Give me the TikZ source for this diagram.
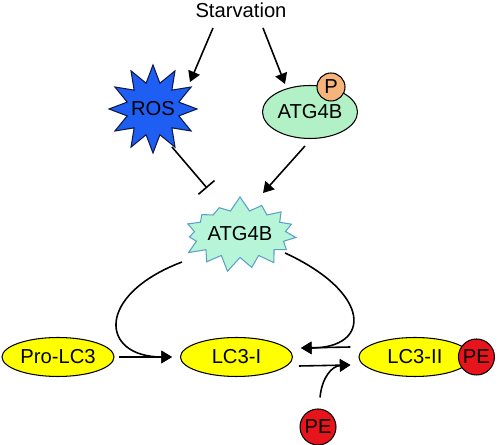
\documentclass[tikz,border=0pt]{standalone}
\usepackage{fontspec}
\setmainfont{Liberation Sans}
\usetikzlibrary{arrows.meta,shapes.geometric,shapes.symbols,positioning}

\definecolor{rosblue}{RGB}{31,94,242}
\definecolor{rosline}{RGB}{15,25,70}
\definecolor{atggreen}{RGB}{178,240,198}
\definecolor{burstgreen}{RGB}{182,245,216}
\definecolor{burstline}{RGB}{92,160,200}
\definecolor{porange}{RGB}{245,180,122}
\definecolor{lcyellow}{RGB}{255,255,0}
\definecolor{pered}{RGB}{232,20,28}

\begin{document}
\begin{tikzpicture}[x=0.02cm,y=0.02cm,>={Triangle[length=6pt,width=7pt]},line width=0.9pt,node distance=3.57cm,
    every node/.style={font=\fontsize{11.5}{13}\selectfont},
    lc/.style={ellipse,draw,line width=0.6pt,fill=lcyellow,inner sep=0pt,minimum width=2.24cm,minimum height=0.78cm},
    pe/.style={circle,draw,line width=0.6pt,fill=pered,inner sep=0pt,minimum size=0.72cm},
    rosburst/.style={star,draw=rosline,line width=0.6pt,fill=rosblue,star points=12,star point ratio=1.65,minimum size=1.76cm,inner sep=0pt},
    atgburst/.style={starburst,draw=burstline,line width=0.6pt,fill=burstgreen,starburst points=15,starburst point height=0.3cm,random starburst=7,minimum width=2.12cm,minimum height=1.54cm,inner sep=0pt}]
  \useasboundingbox (0,0) rectangle (500,445);

  \node (starv) at (241,435) {Starvation};
  \node[rosburst,label=center:ROS] (ros) at (153,336) {};
  \node[ellipse,draw,line width=0.6pt,fill=atggreen,inner sep=0pt,minimum width=1.9cm,minimum height=1.06cm] (patg) at (310,333) {ATG4B};
  \node[circle,draw,line width=0.6pt,fill=porange,inner sep=0pt,minimum size=0.56cm] (p) at (331,358) {P};
  \node[atgburst] (atg) at (240,211) {ATG4B};

  \node[lc] (pro) at (58,88) {Pro-LC3};
  \node[lc] (lc3i) [right of=pro] {LC3-I};
  \node[lc] (lc3ii) [right of=lc3i] {LC3-II};
  \node[pe] (pe1) at ([shift={(5,0)}]lc3ii.east) {PE};
  \node[pe] (pe2) at (318,18) {PE};

  % starvation
  \draw[->] ([shift={(-28,-18)}]starv.center) -- ([shift={(37,27)}]ros.center);
  \draw[->] ([shift={(22,-18)}]starv.center) -- ([shift={(-25,28)}]patg.center);

  % ATG4B activity
  \draw[-{Bar[width=12pt]}] ([shift={(19,-38)}]ros.center) -- ([shift={(-33,46)}]atg.center);
  \draw[->] ([shift={(-5,-34)}]patg.center) -- ([shift={(23,41)}]atg.center);

  % processing
  \draw[->] ([shift={(4,0)}]pro.east) -- ([shift={(-8,0)}]lc3i.west);
  \draw[->] ([shift={(-58,-28)}]atg.center) .. controls (95,150) and (100,88) .. ([shift={(-8,0)}]lc3i.west);
  \draw[->] ([shift={(45,-19)}]atg.center) .. controls (372,152) and (372,97) .. ([shift={(8,9)}]lc3i.east);
  \draw[->] ([shift={(-8,10)}]lc3ii.west) -- ([shift={(8,9)}]lc3i.east);
  \draw[->] ([shift={(6,-9)}]lc3i.east) -- ([shift={(-8,-8)}]lc3ii.west);
  \draw[->] ([shift={(2,11)}]pe2.north) .. controls (322,68) and (332,79) .. ([shift={(-8,-8)}]lc3ii.west);
\end{tikzpicture}
\end{document}
